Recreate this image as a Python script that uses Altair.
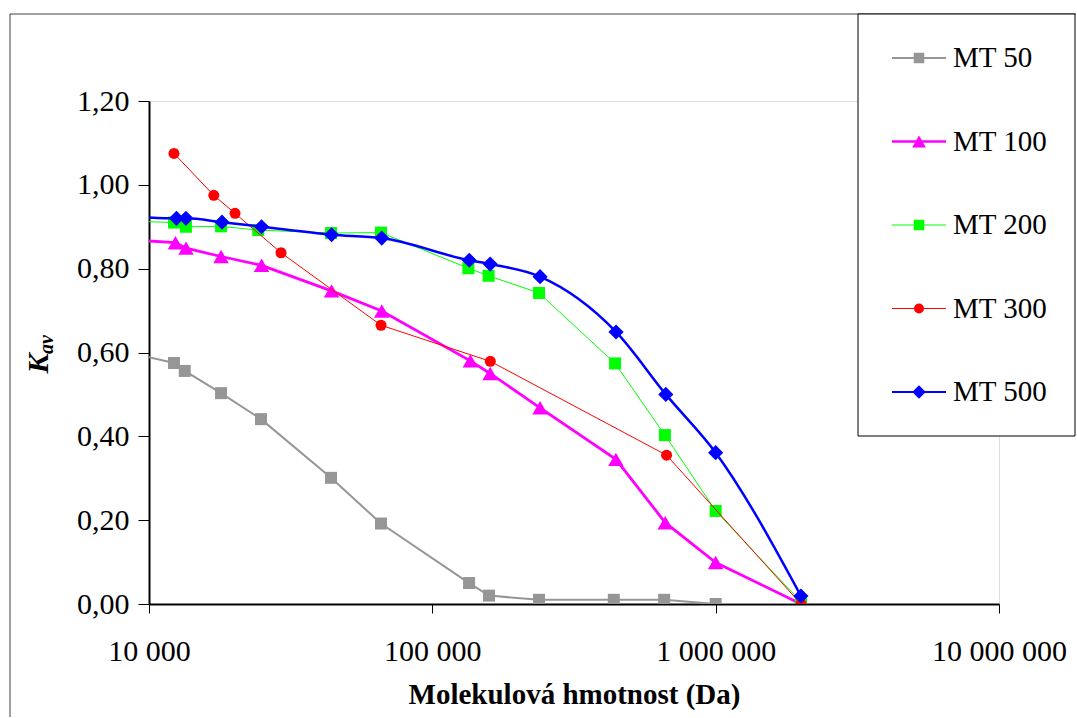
import altair as alt
import pandas as pd

# ---- data ----
series_names = ["MT 50", "MT 100", "MT 200", "MT 300", "MT 500"]

mt50_x = [9000, 12250, 13370, 17960, 24850, 43900, 65900, 134800, 158500, 238000, 437000, 658000, 1000000, 2000000]
mt50_y = [0.596, 0.575, 0.556, 0.503, 0.441, 0.301, 0.192, 0.050, 0.020, 0.010, 0.010, 0.010, 0.000, 0.000]

mt100_x = [9000, 12400, 13510, 17960, 24960, 44100, 66300, 136200, 160000, 240000, 444600, 664000, 1000000, 2000000]
mt100_y = [0.868, 0.862, 0.849, 0.829, 0.808, 0.747, 0.699, 0.580, 0.550, 0.468, 0.345, 0.194, 0.099, 0.000]

mt200_x = [9000, 12250, 13500, 17960, 24300, 43900, 65900, 134000, 158000, 238000, 441500, 662000, 1000000, 2000000]
mt200_y = [0.913, 0.910, 0.900, 0.901, 0.892, 0.885, 0.886, 0.801, 0.783, 0.742, 0.574, 0.403, 0.222, 0.005]

mt300_x = [12250, 16930, 20120, 29240, 65900, 160200, 671000, 2000000]
mt300_y = [1.075, 0.975, 0.932, 0.838, 0.665, 0.579, 0.355, 0.000]

mt500_x = [9000, 12500, 13500, 18100, 24960, 44100, 66300, 135000, 160000, 240000, 445000, 667000, 1000000, 2000000]
mt500_y = [0.924, 0.920, 0.920, 0.911, 0.900, 0.881, 0.873, 0.820, 0.811, 0.781, 0.649, 0.500, 0.361, 0.019]

x_ticks = [10000, 100000, 1000000, 10000000]
y_ticks = [0.0, 0.2, 0.4, 0.6, 0.8, 1.0, 1.2]

colors = ["#969696", "#FF00FF", "#00FF00", "#FF0000", "#0000FF"]
shapes = ["square", "triangle-up", "square", "circle", "diamond"]
widths = [2, 2.8, 1, 1, 2.5]
sizes = [144, 240, 144, 121, 230]
legend_sizes = [110, 190, 110, 100, 180]
legend_widths = [2, 2.5, 1.2, 1.2, 2.2]
interps = ["linear", "linear", "linear", "linear", "monotone"]

xs = [mt50_x, mt100_x, mt200_x, mt300_x, mt500_x]
ys = [mt50_y, mt100_y, mt200_y, mt300_y, mt500_y]

FONT = "Liberation Serif"
W, H = 850, 503
LEFT, TOP = 148, 100

x_enc = alt.X(
    "x:Q",
    scale=alt.Scale(type="log", base=10, domain=[10000, 10000000], nice=False),
    axis=alt.Axis(
        values=x_ticks,
        labelExpr="replace(format(datum.value, ',.0f'), regexp(',', 'g'), ' ')",
        labelFont=FONT, labelFontSize=30, labelColor="black", labelPadding=23,
        labelFlush=False, labelOverlap=False, labelBound=False,
        tickSize=9, tickColor="black", tickWidth=1,
        domainColor="black", domainWidth=2, grid=False,
        title="Molekulová hmotnost (Da)", titleFont=FONT, titleFontSize=29,
        titleFontWeight="bold", titleColor="black", titlePadding=14,
    ),
)
y_enc = alt.Y(
    "y:Q",
    scale=alt.Scale(domain=[0, 1.2], nice=False, zero=False),
    axis=alt.Axis(
        values=y_ticks,
        labelExpr="replace(format(datum.value, '.2f'), '.', ',')",
        labelFont=FONT, labelFontSize=30, labelColor="black", labelPadding=9,
        labelFlush=False, labelOverlap=False,
        tickSize=11, tickColor="black", tickWidth=1,
        domainColor="black", domainWidth=2, grid=False, title="",
    ),
)

layers = []

# outer frame (left and top edges)
one = pd.DataFrame({"k": [0]})
layers.append(alt.Chart(one).mark_rule(color="#404040", strokeWidth=1).encode(
    x=alt.value(9 - LEFT), y=alt.value(13 - TOP), y2=alt.value(716 - TOP)))
layers.append(alt.Chart(one).mark_rule(color="#404040", strokeWidth=1).encode(
    x=alt.value(9 - LEFT), x2=alt.value(1075 - LEFT), y=alt.value(13 - TOP)))

# series
for i, name in enumerate(series_names):
    df = pd.DataFrame({"x": xs[i], "y": ys[i]})
    base = alt.Chart(df)
    layers.append(base.mark_line(color=colors[i], strokeWidth=widths[i], clip=True,
                                 interpolate=interps[i]).encode(x=x_enc, y=y_enc))
    layers.append(base.mark_point(shape=shapes[i], filled=True, size=sizes[i], color=colors[i],
                                  opacity=1, clip=True).encode(x=x_enc, y=y_enc))

# legend box
layers.append(alt.Chart(one).mark_rect(fill="white", stroke="black", strokeWidth=1).encode(
    x=alt.value(857 - LEFT), x2=alt.value(1074 - LEFT),
    y=alt.value(13 - TOP), y2=alt.value(435 - TOP)))

for i, name in enumerate(series_names):
    yp = 57 + i * 83.5 - TOP
    d = pd.DataFrame({"s": [name]})
    layers.append(alt.Chart(d).mark_rule(color=colors[i], strokeWidth=legend_widths[i]).encode(
        x=alt.value(891 - LEFT), x2=alt.value(945 - LEFT), y=alt.value(yp)))
    layers.append(alt.Chart(d).mark_point(shape=shapes[i], filled=True, size=legend_sizes[i],
                                          color=colors[i], opacity=1).encode(
        x=alt.value(918 - LEFT), y=alt.value(yp)))
    layers.append(alt.Chart(d).mark_text(align="left", baseline="middle", font=FONT, fontSize=29,
                                         color="black").encode(
        x=alt.value(952 - LEFT), y=alt.value(yp), text="s:N"))

# y-axis title K_av
layers.append(alt.Chart(pd.DataFrame({"t": ["K"]})).mark_text(
    angle=270, align="center", baseline="alphabetic", font=FONT, fontSize=30,
    fontWeight="bold", fontStyle="italic", color="black").encode(
    x=alt.value(47 - LEFT), y=alt.value(362.5 - TOP), text="t:N"))
layers.append(alt.Chart(pd.DataFrame({"t": ["av"]})).mark_text(
    angle=270, align="center", baseline="alphabetic", font=FONT, fontSize=20,
    fontWeight="bold", fontStyle="italic", color="black").encode(
    x=alt.value(52 - LEFT), y=alt.value(343.5 - TOP), text="t:N"))

chart = alt.layer(*layers).properties(
    width=W, height=H,
    padding={"left": 9, "top": 13, "right": 0, "bottom": 0},
    background="white",
).configure_view(stroke="black", strokeWidth=1).configure(font=FONT)

chart.save("out.html", embed_options={"renderer": "svg", "actions": False})
